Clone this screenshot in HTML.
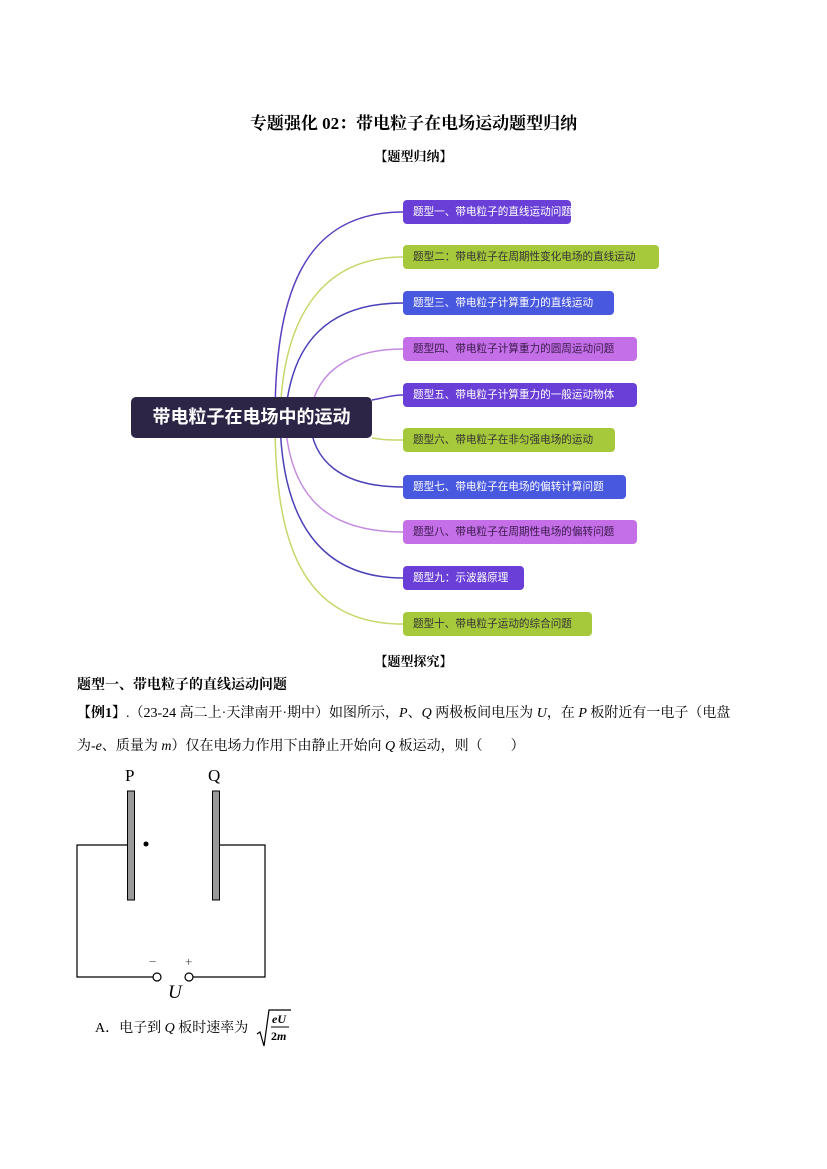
<!DOCTYPE html>
<html><head><meta charset="utf-8"><style>
body{margin:0;width:827px;height:1169px;background:#fff;position:relative;font-family:"Liberation Serif","Noto Serif CJK SC",serif;color:#000}
.a{position:absolute;white-space:nowrap}
.n{position:absolute;left:403px;height:24px;border-radius:4px;font-family:"Liberation Sans","Noto Sans CJK SC",sans-serif;font-size:10.6px;line-height:24px;padding-left:10px;box-sizing:border-box;color:#fff;white-space:nowrap;overflow:visible}
.pu{background:#6a3fd8}.gr{background:#a6c93c;color:#333}.bl{background:#4858df}.vi{background:#c46ee8;color:#3a1a4a}
.s{font-family:"Liberation Serif","Noto Serif CJK SC",serif}
</style></head><body>
<div class="a s" style="left:0;width:827px;text-align:center;top:109px;font-size:17px;font-weight:bold">专题强化 02：带电粒子在电场运动题型归纳</div>
<div class="a s" style="left:0;width:827px;text-align:center;top:146px;font-size:13px;font-weight:bold">【题型归纳】</div>
<svg class="a" style="left:0;top:0" width="827" height="700" fill="none" stroke-width="1.5">
<path d="M275 420 C275 300,300 212,403 212" stroke="#5a3fc0"/>
<path d="M280 420 C282 320,320 257,403 257" stroke="#c5d86a"/>
<path d="M285 420 C290 340,330 303,403 303" stroke="#4a40b8"/>
<path d="M310 420 C312 380,340 349,403 349" stroke="#c58be0"/>
<path d="M372 400 C385 398,390 395,403 395" stroke="#5a3fc0"/>
<path d="M372 438 C385 440,390 440,403 440" stroke="#c5d86a"/>
<path d="M310 420 C312 460,340 487,403 487" stroke="#4a40b8"/>
<path d="M285 420 C290 500,330 532,403 532" stroke="#c58be0"/>
<path d="M280 420 C282 520,320 578,403 578" stroke="#4a40b8"/>
<path d="M275 420 C275 540,300 624,403 624" stroke="#c5d86a"/>
</svg>
<div class="a" style="left:131px;top:397px;width:241px;height:41px;background:#2d2545;border-radius:5px;color:#fff;font-family:'Liberation Sans','Noto Sans CJK SC',sans-serif;font-size:18px;font-weight:bold;line-height:41px;text-align:center">带电粒子在电场中的运动</div>
<div class="n pu" style="top:200px;width:168px">题型一、带电粒子的直线运动问题</div>
<div class="n gr" style="top:245px;width:256px">题型二：带电粒子在周期性变化电场的直线运动</div>
<div class="n bl" style="top:291px;width:211px">题型三、带电粒子计算重力的直线运动</div>
<div class="n vi" style="top:337px;width:234px">题型四、带电粒子计算重力的圆周运动问题</div>
<div class="n pu" style="top:383px;width:234px">题型五、带电粒子计算重力的一般运动物体</div>
<div class="n gr" style="top:428px;width:212px">题型六、带电粒子在非匀强电场的运动</div>
<div class="n bl" style="top:475px;width:223px">题型七、带电粒子在电场的偏转计算问题</div>
<div class="n vi" style="top:520px;width:234px">题型八、带电粒子在周期性电场的偏转问题</div>
<div class="n pu" style="top:566px;width:121px">题型九：示波器原理</div>
<div class="n gr" style="top:612px;width:189px">题型十、带电粒子运动的综合问题</div>
<div class="a s" style="left:0;width:827px;text-align:center;top:651px;font-size:13px;font-weight:bold">【题型探究】</div>
<div class="a s" style="left:77px;top:674px;font-size:14px;font-weight:bold">题型一、带电粒子的直线运动问题</div>
<div class="a s" style="left:77px;top:702px;font-size:14px"><b>【例1】</b>.（23-24 高二上·天津南开·期中）如图所示，<i>P</i>、<i>Q</i> 两极板间电压为 <i>U</i>，在 <i>P</i> 板附近有一电子（电盘</div>
<div class="a s" style="left:77px;top:735px;font-size:14px">为-<i>e</i>、质量为 <i>m</i>）仅在电场力作用下由静止开始向 <i>Q</i> 板运动，则（　　）</div>
<svg class="a" style="left:0;top:760px" width="300" height="250">
<text x="125" y="21" font-size="17" font-family="Liberation Serif">P</text>
<text x="208" y="21" font-size="17" font-family="Liberation Serif">Q</text>
<rect x="127.5" y="31" width="7" height="109" fill="#999" stroke="#000"/>
<rect x="212.5" y="31" width="7" height="109" fill="#999" stroke="#000"/>
<g stroke="#000" fill="none" stroke-width="1.2">
<path d="M127 85 H77 V217 H153"/>
<path d="M220 85 H265 V217 H193"/>
<circle cx="157" cy="217" r="4" fill="#fff"/>
<circle cx="189" cy="217" r="4" fill="#fff"/>
</g>
<circle cx="146" cy="84" r="2.5"/>
<text x="149" y="206" font-size="13" fill="#444">−</text>
<text x="185" y="206" font-size="13" fill="#444">+</text>
<text x="168" y="238" font-size="19" font-style="italic" font-family="Liberation Serif">U</text>
</svg>
<div class="a s" style="left:95px;top:1017px;font-size:14px">A．电子到 <i>Q</i> 板时速率为</div>
<svg class="a" style="left:255px;top:1008px" width="40" height="42">
<path d="M2 26 L5 24 L9 38 L14 2 H36" stroke="#000" fill="none" stroke-width="1.2"/>
<text x="17" y="15" font-size="12" font-weight="bold" font-style="italic" font-family="Liberation Serif">eU</text>
<line x1="16" y1="19" x2="34" y2="19" stroke="#000"/>
<text x="16" y="32" font-size="12" font-weight="bold" font-family="Liberation Serif">2<tspan font-style="italic">m</tspan></text>
</svg>
</body></html>
